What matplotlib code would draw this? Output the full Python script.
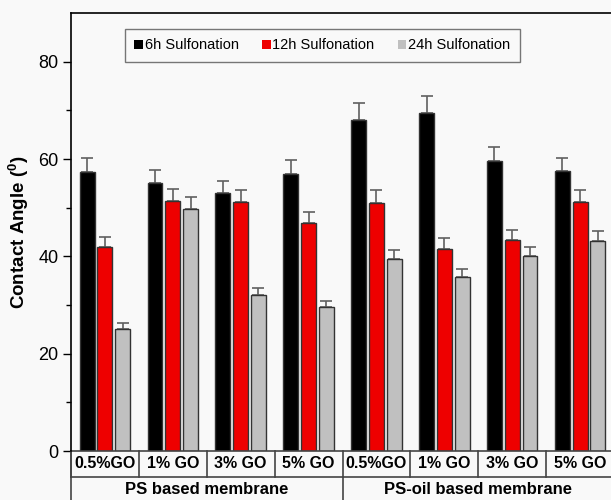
import matplotlib.pyplot as plt
import numpy as np

plt.rcParams['font.family'] = ['Liberation Sans', 'DejaVu Sans']

membranes = ["PS based membrane", "PS-oil based membrane"]
go_labels = ["0.5%GO", "1% GO", "3% GO", "5% GO", "0.5%GO", "1% GO", "3% GO", "5% GO"]
series = ["6h Sulfonation", "12h Sulfonation", "24h Sulfonation"]
colors = ["#000000", "#ee0000", "#c0c0c0"]

angle_6h = [57.4, 55.0, 53.0, 57.0, 68.1, 69.4, 59.5, 57.5]
angle_12h = [42.0, 51.3, 51.2, 46.8, 51.0, 41.6, 43.3, 51.1]
angle_24h = [25.0, 49.7, 32.0, 29.5, 39.4, 35.7, 40.0, 43.1]
err_6h = [2.8, 2.7, 2.5, 2.7, 3.4, 3.5, 2.9, 2.8]
err_12h = [2.0, 2.5, 2.4, 2.4, 2.6, 2.1, 2.1, 2.5]
err_24h = [1.3, 2.5, 1.5, 1.3, 1.9, 1.7, 1.9, 2.2]

values = [angle_6h, angle_12h, angle_24h]
errors = [err_6h, err_12h, err_24h]

bg = "#f9f9f9"
fig = plt.figure(figsize=(6.11, 5.0), dpi=100, facecolor=bg)
ax = fig.add_axes([71 / 611, 1 - 451 / 500, 543 / 611, 438 / 500], facecolor=bg)

x = np.arange(len(go_labels))
pitch = 0.262
width = 0.22
for i in range(3):
    ax.bar(x + (i - 1) * pitch, values[i], width, color=colors[i],
           edgecolor="#333333", linewidth=1.0, label=series[i], zorder=2)
    ax.errorbar(x + (i - 1) * pitch, values[i],
                yerr=[np.zeros(len(x)), errors[i]], fmt="none",
                ecolor="#606060", elinewidth=1.2, capsize=4.5, capthick=1.2,
                zorder=1)

ax.set_xlim(-0.5, len(x) - 0.5)
ax.set_ylim(0, 90)
ax.set_yticks([0, 20, 40, 60, 80])
ax.set_yticks([10, 30, 50, 70], minor=True)
ax.tick_params(axis="y", which="major", direction="out", length=6, width=1,
               labelsize=13, pad=3)
ax.tick_params(axis="y", which="minor", direction="out", length=3.5, width=1)
ax.set_xticks([])
ax.spines["right"].set_visible(False)
ax.spines["bottom"].set_visible(False)
for s in ["left", "top"]:
    ax.spines[s].set_linewidth(1.2)
ax.set_ylabel("Contact Angle ($\\mathregular{^0}$)", fontsize=13.5,
              fontweight="bold", labelpad=5)

# category table under the axis
trans = ax.get_xaxis_transform()
row1 = -26 / 438
row2 = -60 / 438
lc = "#444444"
ax.plot([-0.5, len(x) - 0.5], [0, 0], color=lc, lw=1.2, transform=trans,
        clip_on=False)
ax.plot([-0.5, len(x) - 0.5], [row1, row1], color=lc, lw=1.2,
        transform=trans, clip_on=False)
for b in np.arange(len(x) + 1) - 0.5:
    ax.plot([b, b], [0, row1], color=lc, lw=1.2, transform=trans,
            clip_on=False)
ax.plot([-0.5, -0.5], [0, row2], color=lc, lw=1.2, transform=trans,
        clip_on=False)
ax.plot([3.5, 3.5], [row1, row2], color=lc, lw=1.2, transform=trans,
        clip_on=False)
for xi, lab in zip(x, go_labels):
    ax.text(xi, row1 / 2, lab, transform=trans, ha="center", va="center",
            fontsize=11.5, fontweight="bold")
for j, lab in enumerate(membranes):
    ax.text(1.5 + 4 * j, -38 / 438, lab, transform=trans, ha="center",
            va="center", fontsize=12, fontweight="bold")

leg = ax.legend(loc="upper left", bbox_to_anchor=(54 / 543, 1 - 16 / 438),
                ncol=3, fontsize=10.5, frameon=True, fancybox=False,
                handlelength=0.6, handleheight=0.6, handletextpad=0.1,
                columnspacing=1.6, borderpad=0.65, borderaxespad=0,
                facecolor=bg)
leg.get_frame().set_edgecolor("#555555")
leg.get_frame().set_linewidth(1.0)
for h in leg.legend_handles:
    h.set_edgecolor("none")

fig.savefig("out.png", dpi=100, facecolor=bg)
